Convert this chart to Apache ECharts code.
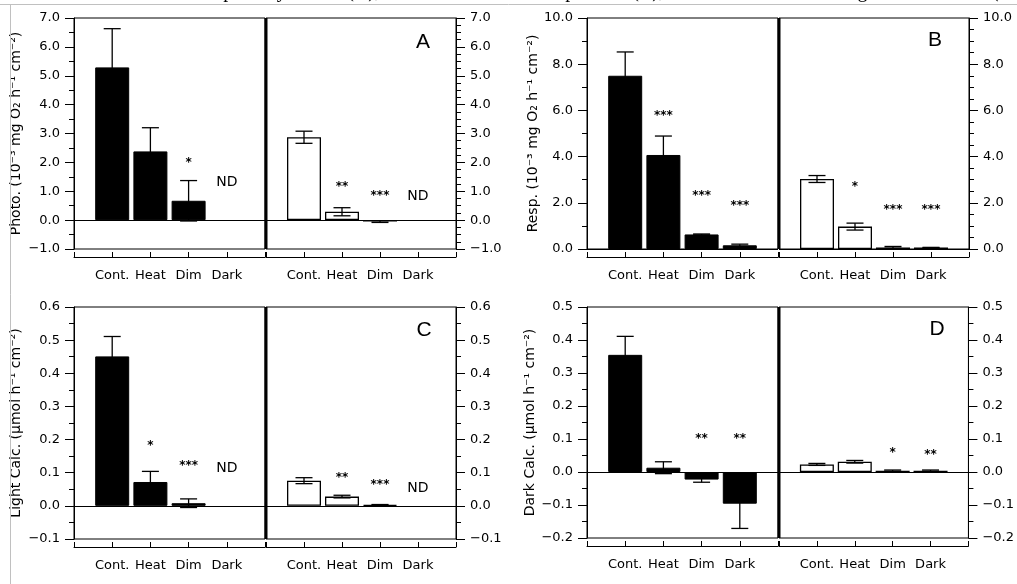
<!DOCTYPE html>
<html>
<head>
<meta charset="utf-8">
<script src="https://cdn.jsdelivr.net/npm/echarts@6/dist/echarts.min.js"></script>
<style>html,body{margin:0;padding:0;background:#fff;}#c{width:1017px;height:584px;}</style>
</head>
<body>
<div id="c"></div>
<script>
// ---------- data ----------
const cats = ['Cont.', 'Heat', 'Dim', 'Dark'];

// Panel A: photosynthesis
const photoBlack    = [5.29, 2.38, 0.67, null];
const photoBlackSE  = [1.34, 0.82, 0.70, null];
const photoWhite    = [2.87, 0.29, -0.05, null];
const photoWhiteSE  = [0.21, 0.14, 0.03, null];
const photoBlackSig = ['', '', '*', 'ND'];
const photoBlackSigAt = [null, null, 2.07, 1.31];
const photoWhiteSig = ['', '**', '***', 'ND'];
const photoWhiteSigAt = [null, 1.27, 0.96, 0.82];

// Panel B: respiration
const respBlack    = [7.50, 4.07, 0.63, 0.16];
const respBlackSE  = [1.03, 0.82, 0.02, 0.05];
const respWhite    = [3.03, 0.97, 0.07, 0.06];
const respWhiteSE  = [0.15, 0.15, 0.04, 0.01];
const respBlackSig = ['', '***', '***', '***'];
const respBlackSigAt = [null, 5.88, 2.45, 1.99];
const respWhiteSig = ['', '*', '***', '***'];
const respWhiteSigAt = [null, 2.83, 1.84, 1.84];

// Panel C: light calcification
const lightBlack    = [0.451, 0.072, 0.008, null];
const lightBlackSE  = [0.060, 0.032, 0.013, null];
const lightWhite    = [0.076, 0.028, 0.003, null];
const lightWhiteSE  = [0.009, 0.004, 0.001, null];
const lightBlackSig = ['', '*', '***', 'ND'];
const lightBlackSigAt = [null, 0.19, 0.131, 0.114];
const lightWhiteSig = ['', '**', '***', 'ND'];
const lightWhiteSigAt = [null, 0.094, 0.071, 0.054];

// Panel D: dark calcification
const darkBlack    = [0.355, 0.013, -0.023, -0.096];
const darkBlackSE  = [0.056, 0.018, 0.008, 0.075];
const darkWhite    = [0.023, 0.031, 0.004, 0.004];
const darkWhiteSE  = [0.003, 0.004, 0.002, 0.002];
const darkBlackSig = ['', '', '**', '**'];
const darkBlackSigAt = [null, null, 0.108, 0.108];
const darkWhiteSig = ['', '', '*', '**'];
const darkWhiteSigAt = [null, null, 0.068, 0.062];

// Axis ranges
const photoAxis = {min: -1, max: 7, interval: 1};
const respAxis  = {min: 0, max: 10, interval: 2};
const lightAxis = {min: -0.1, max: 0.6, interval: 0.1};
const darkAxis  = {min: -0.2, max: 0.5, interval: 0.1};

const photoName = 'Photo. (10\u207B\u00B3 mg O\u2082 h\u207B\u00B9 cm\u207B\u00B2)';
const respName  = 'Resp. (10\u207B\u00B3 mg O\u2082 h\u207B\u00B9 cm\u207B\u00B2)';
const lightName = 'Light Calc. (\u00B5mol h\u207B\u00B9 cm\u207B\u00B2)';
const darkName  = 'Dark Calc. (\u00B5mol h\u207B\u00B9 cm\u207B\u00B2)';

// ---------- build ----------
const FONT = 'DejaVu Sans';
const grids = [], xAxes = [], yAxes = [], series = [];

function fmtY(v) {
  const s = Math.abs(v).toFixed(1);
  return v < -1e-9 ? '\u2212' + s : s;
}

function subplot(rect, axis, vals, ses, sig, sigAt, filled, side, minorSplit, name, nameGap) {
  const gi = grids.length;
  grids.push(Object.assign({show: true, borderColor: '#000', borderWidth: 1, backgroundColor: 'transparent'}, rect));
  xAxes.push({
    gridIndex: gi, type: 'value', min: 0, max: 5, interval: 1, position: 'bottom', offset: 8,
    axisLine: {show: true, onZero: false, lineStyle: {color: '#000', width: 1}},
    axisTick: {show: true, inside: true, length: 5, lineStyle: {color: '#000'}},
    axisLabel: {margin: 12, color: '#000', fontFamily: FONT, fontSize: 13,
      formatter: v => cats[Math.round(v) - 1] || ''},
    splitLine: {show: false}
  });
  const ya = {
    gridIndex: gi, type: 'value', min: axis.min, max: axis.max, interval: axis.interval, position: side,
    axisLine: {show: true, onZero: false, lineStyle: {color: '#000', width: 1}},
    axisTick: {show: true, length: 9, lineStyle: {color: '#000'}},
    minorTick: {show: true, splitNumber: minorSplit, length: 5, lineStyle: {color: '#000'}},
    splitLine: {show: false}, minorSplitLine: {show: false},
    axisLabel: {margin: 14, color: '#000', fontFamily: FONT, fontSize: 13, formatter: fmtY}
  };
  if (name) {
    Object.assign(ya, {name: name, nameLocation: 'middle', nameGap: nameGap,
      nameTextStyle: {color: '#000', fontFamily: FONT, fontSize: 14}});
  }
  yAxes.push(ya);

  const barData = [], errData = [], sigData = [];
  vals.forEach((v, i) => {
    if (v !== null) {
      barData.push([i + 1, v]);
      errData.push([i + 1, v, ses[i]]);
    }
    if (sig[i]) sigData.push([i + 1, sigAt[i], i]);
  });

  series.push({
    type: 'bar', xAxisIndex: gi, yAxisIndex: gi, data: barData, barWidth: 34,
    itemStyle: {color: filled ? '#000' : '#fff', borderColor: '#000', borderWidth: filled ? 1 : 1.3},
    markLine: {silent: true, symbol: ['none', 'none'], label: {show: false},
      lineStyle: {color: '#000', width: 1, type: 'solid'}, data: [{yAxis: 0}], animation: false},
    z: 2
  });
  series.push({
    type: 'custom', xAxisIndex: gi, yAxisIndex: gi, data: errData, z: 3,
    renderItem: (params, api) => {
      const x = api.value(0), y = api.value(1), e = api.value(2);
      const t = api.coord([x, y + e]), b = api.coord([x, y - e]);
      const hw = 8.5, st = {stroke: '#000', lineWidth: 1.3};
      return {type: 'group', children: [
        {type: 'line', shape: {x1: t[0], y1: t[1], x2: b[0], y2: b[1]}, style: st},
        {type: 'line', shape: {x1: t[0] - hw, y1: t[1], x2: t[0] + hw, y2: t[1]}, style: st},
        {type: 'line', shape: {x1: b[0] - hw, y1: b[1], x2: b[0] + hw, y2: b[1]}, style: st}
      ]};
    }
  });
  series.push({
    type: 'custom', xAxisIndex: gi, yAxisIndex: gi, data: sigData, z: 4,
    renderItem: (params, api) => {
      const p = api.coord([api.value(0), api.value(1)]);
      const txt = sig[api.value(2)];
      const star = txt.indexOf('*') >= 0;
      return {type: 'text', x: p[0], y: p[1] + (star ? 3 : 0), style: {
        text: txt, align: 'center', verticalAlign: 'middle', fill: '#000',
        fontFamily: FONT, fontSize: star ? 12 : 14, fontWeight: star ? 'bold' : 'normal'}};
    }
  });
}

// Panel A
subplot({left: 74, top: 18, width: 191, height: 231}, photoAxis, photoBlack, photoBlackSE, photoBlackSig, photoBlackSigAt, true, 'left', 2, photoName, 51);
subplot({left: 266, top: 18, width: 190, height: 231}, photoAxis, photoWhite, photoWhiteSE, photoWhiteSig, photoWhiteSigAt, false, 'right', 4);
// Panel B
subplot({left: 587, top: 18, width: 191, height: 231}, respAxis, respBlack, respBlackSE, respBlackSig, respBlackSigAt, true, 'left', 2, respName, 47);
subplot({left: 779, top: 18, width: 190, height: 231}, respAxis, respWhite, respWhiteSE, respWhiteSig, respWhiteSigAt, false, 'right', 4);
// Panel C
subplot({left: 74, top: 307, width: 191, height: 232}, lightAxis, lightBlack, lightBlackSE, lightBlackSig, lightBlackSigAt, true, 'left', 2, lightName, 51);
subplot({left: 266, top: 307, width: 190, height: 232}, lightAxis, lightWhite, lightWhiteSE, lightWhiteSig, lightWhiteSigAt, false, 'right', 2);
// Panel D
subplot({left: 587, top: 307, width: 191, height: 231}, darkAxis, darkBlack, darkBlackSE, darkBlackSig, darkBlackSigAt, true, 'left', 2, darkName, 47);
subplot({left: 779, top: 307, width: 190, height: 231}, darkAxis, darkWhite, darkWhiteSE, darkWhiteSig, darkWhiteSigAt, false, 'right', 2);

function letter(t, x, y) {
  return {type: 'text', x: x, y: y, z: 10, style: {text: t, align: 'center', verticalAlign: 'middle',
    fill: '#000', fontFamily: 'Liberation Sans', fontSize: 21}};
}
function divider(x, y1, y2) {
  return {type: 'line', z: 10, shape: {x1: x, y1: y1, x2: x, y2: y2}, style: {stroke: '#000', lineWidth: 3}};
}
function capText(t, x) {
  return {type: 'text', x: x, y: 2, z: 1, style: {text: t, align: 'right', verticalAlign: 'bottom',
    fill: '#000', fontFamily: 'Liberation Serif', fontSize: 20}};
}

const graphic = [
  capText('of net photosynthesis (A),', 380),
  capText('respiration (B),', 664),
  capText('light calcification (C', 1012),
  {type: 'line', z: 3, shape: {x1: 0, y1: 4.5, x2: 1017, y2: 4.5}, style: {stroke: '#c0c0c0', lineWidth: 1}},
  {type: 'line', z: 3, shape: {x1: 10.5, y1: 4.5, x2: 10.5, y2: 584}, style: {stroke: '#c0c0c0', lineWidth: 1}},
  letter('A', 423, 42), letter('B', 935, 40), letter('C', 424, 330), letter('D', 937, 329),
  divider(266, 18, 249), divider(779, 18, 249), divider(266, 307, 539), divider(779, 307, 538)
];

const chart = echarts.init(document.getElementById('c'), null, {renderer: 'canvas'});
chart.setOption({
  animation: false,
  grid: grids, xAxis: xAxes, yAxis: yAxes, series: series,
  graphic: {elements: graphic}
});
</script>
</body>
</html>
